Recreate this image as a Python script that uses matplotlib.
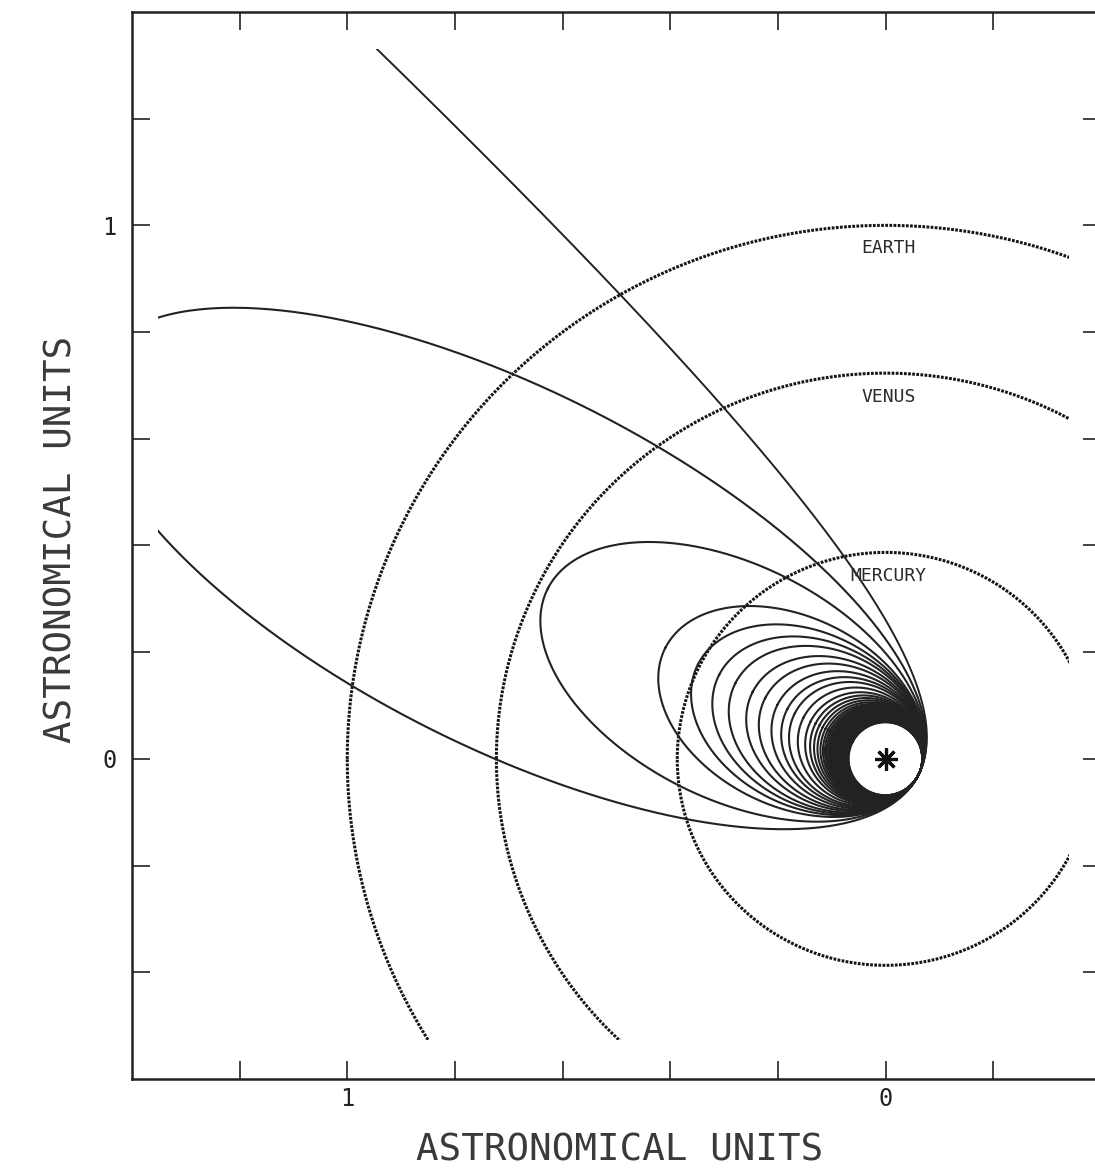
import numpy as np
import matplotlib
matplotlib.use('Agg')
import matplotlib.pyplot as plt
from matplotlib.patches import Rectangle

# planet orbits (AU) and label heights
planet_names = ['EARTH', 'VENUS', 'MERCURY']
planet_radius = [1.0, 0.723, 0.387]
label_y = [0.958, 0.678, 0.342]

# spacecraft orbits: common perihelion, aphelion shrinking each pass
perihelion = 0.068
perihelion_dir = 207.0          # degrees
arrival_ecc = 1.033             # hyperbolic approach
aphelion = [1.64, 0.704, 0.459, 0.391, 0.347, 0.313, 0.277, 0.251, 0.225,
            0.205, 0.189, 0.171, 0.156, 0.146, 0.138, 0.131, 0.125, 0.120,
            0.116, 0.1125, 0.1095, 0.107, 0.1048, 0.1028, 0.101, 0.0992,
            0.0975, 0.0958, 0.0942, 0.0926, 0.091, 0.0895, 0.088, 0.0865,
            0.085, 0.0836, 0.0822, 0.0808, 0.0795, 0.0782, 0.077, 0.0758,
            0.0746, 0.0735, 0.0724, 0.0714, 0.0704, 0.0695, 0.0688]

x_ticks = [-0.2, 0.0, 0.2, 0.4, 0.6, 0.8, 1.0, 1.2]
y_ticks = [-0.4, -0.2, 0.0, 0.2, 0.4, 0.6, 0.8, 1.0, 1.2]

font = 'DejaVu Sans Mono'
ink = '#222222'

fig = plt.figure(figsize=(10.95, 11.71), dpi=100)
ax = fig.add_axes([0.1205, 0.0786, 0.8849, 0.9112])


def clip(line):
    box = Rectangle((-0.34, -0.527), 1.692, 1.857, transform=ax.transData)
    line.set_clip_path(box)


def conic(e, nu):
    p = perihelion * (1 + e)
    r = p / (1 + e * np.cos(nu))
    phi = np.radians(perihelion_dir) + nu
    return r * np.cos(phi), r * np.sin(phi)


# planets
t = np.linspace(0, 2 * np.pi, 2000)
for name, rad, ly in zip(planet_names, planet_radius, label_y):
    ln, = ax.plot(rad * np.cos(t), rad * np.sin(t), color='#151515', lw=2.2,
                  ls=(0, (0.9, 0.45)))
    clip(ln)
    ax.text(-0.005, ly, name, family=font, fontsize=13, ha='center',
            va='center', color='#2a2a2a')

# incoming hyperbola
nu_max = np.arccos(-1 / arrival_ecc) - 0.002
nu = np.linspace(-nu_max, 0, 6000)
hx, hy = conic(arrival_ecc, nu)
ln, = ax.plot(hx, hy, color=ink, lw=1.4)
clip(ln)

# captured ellipses
nu = np.linspace(-np.pi, np.pi, 1500)
for Q in aphelion:
    e = (Q - perihelion) / (Q + perihelion)
    ex, ey = conic(e, nu)
    ln, = ax.plot(ex, ey, color=ink, lw=1.5)
    clip(ln)

# sun
ax.plot([0], [0], marker=(8, 2, 0), ms=16, mew=2.3, color='#111')

ax.set_xlim(1.4, -0.4)
ax.set_ylim(-0.6, 1.4)
ax.set_xticks(x_ticks)
ax.set_yticks(y_ticks)
ax.set_xticklabels(['0' if v == 0 else '1' if v == 1 else '' for v in x_ticks])
ax.set_yticklabels(['0' if v == 0 else '1' if v == 1 else '' for v in y_ticks])
ax.tick_params(direction='in', length=13, width=1.2, top=True, right=True,
               labelsize=17, color='#222', labelcolor='#222')
ax.tick_params(axis='x', pad=6)
ax.tick_params(axis='y', pad=11)
for lab in ax.get_xticklabels() + ax.get_yticklabels():
    lab.set_family(font)
for s in ax.spines.values():
    s.set_linewidth(1.8)
    s.set_color('#222')

fig.text(0.566, 0.0179, 'ASTRONOMICAL UNITS', family=font, fontsize=27,
         ha='center', va='center', color='#3a3a3a')
fig.text(0.0566, 0.539, 'ASTRONOMICAL UNITS', family=font, fontsize=27,
         ha='center', va='center', rotation=90, color='#3a3a3a')

fig.savefig('out.png', dpi=100)
